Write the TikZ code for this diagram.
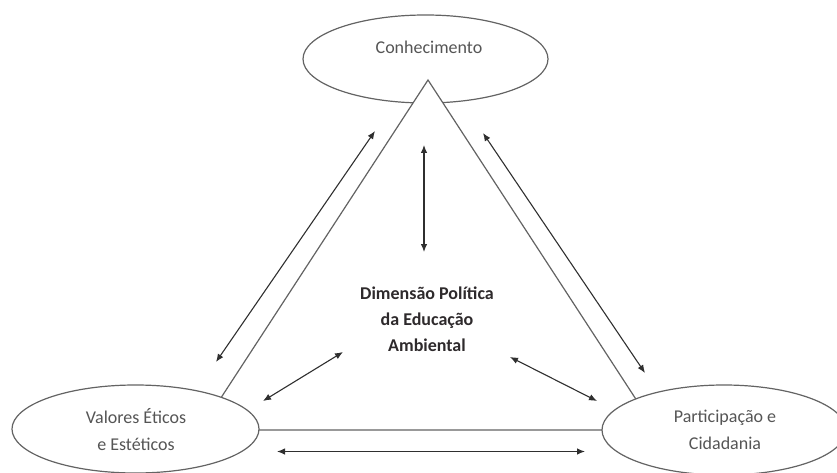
\documentclass[tikz,border=0pt]{standalone}
\usepackage{fontspec}
\setmainfont{Carlito}
\usetikzlibrary{shapes.geometric,arrows.meta}
\definecolor{shapeline}{HTML}{636363}
\definecolor{arrowline}{HTML}{2F2F2F}
\definecolor{labeltext}{HTML}{555555}
\definecolor{maintext}{HTML}{2E2A2C}
\tikzset{
  oval/.style={ellipse,draw=shapeline,line width=1.2pt,fill=white,inner sep=0pt},
  lbl/.style={font=\fontsize{18}{27}\selectfont,text=labeltext,align=center,inner sep=0pt},
  centre/.style={font=\fontsize{18}{26}\selectfont\bfseries,text=maintext,align=center,inner sep=0pt},
  dblarrow/.style={{Latex[length=8pt,width=6.5pt]}-{Latex[length=8pt,width=6.5pt]},draw=arrowline,line width=1.1pt},
  triline/.style={draw=shapeline,line width=1.2pt,fill=white,line join=miter}
}
\begin{document}
\begin{tikzpicture}[x=1pt,y=-1pt]
\useasboundingbox (0,0) rectangle (837,473);
% top ellipse
\node[oval,minimum width=245pt,minimum height=88pt] (conh) at (425.5,59) {};
\node[lbl] (conhT) at (429,47) {Conhecimento};
% triangle
\coordinate (apex) at (428,80);
\coordinate (cl) at (200,430);
\coordinate (cr) at (656,430);
\path[triline] (apex) -- (cl) -- (cr) -- cycle;
% bottom ellipses
\node[oval,minimum width=247pt,minimum height=88pt] (valores) at (135.5,429) {};
\node[oval,minimum width=244pt,minimum height=90pt] (part) at (724,430) {};
\node[lbl] (valT) at (136,429.5) {Valores Éticos\\e Estéticos};
\node[lbl] (partT) at (725,429.5) {Participação e\\Cidadania};
% centre text
\node[centre] (dim) at (427,319) {Dimensão Política\\da Educação\\Ambiental};
% arrow end points
\coordinate (v1) at (424,145);
\coordinate (v2) at (424,252);
\coordinate (l1) at (375,131);
\coordinate (l2) at (216,362);
\coordinate (r1) at (483,133);
\coordinate (r2) at (645,373);
\coordinate (dl1) at (263,401);
\coordinate (dl2) at (343,352);
\coordinate (dr1) at (510,357);
\coordinate (dr2) at (597,401);
\coordinate (h1) at (277,451.5);
\coordinate (h2) at (585,451.5);
\draw[dblarrow] (v1) -- (v2);
\draw[dblarrow] (l1) -- (l2);
\draw[dblarrow] (r1) -- (r2);
\draw[dblarrow] (dl1) -- (dl2);
\draw[dblarrow] (dr1) -- (dr2);
\draw[dblarrow] (h1) -- (h2);
\end{tikzpicture}
\end{document}
